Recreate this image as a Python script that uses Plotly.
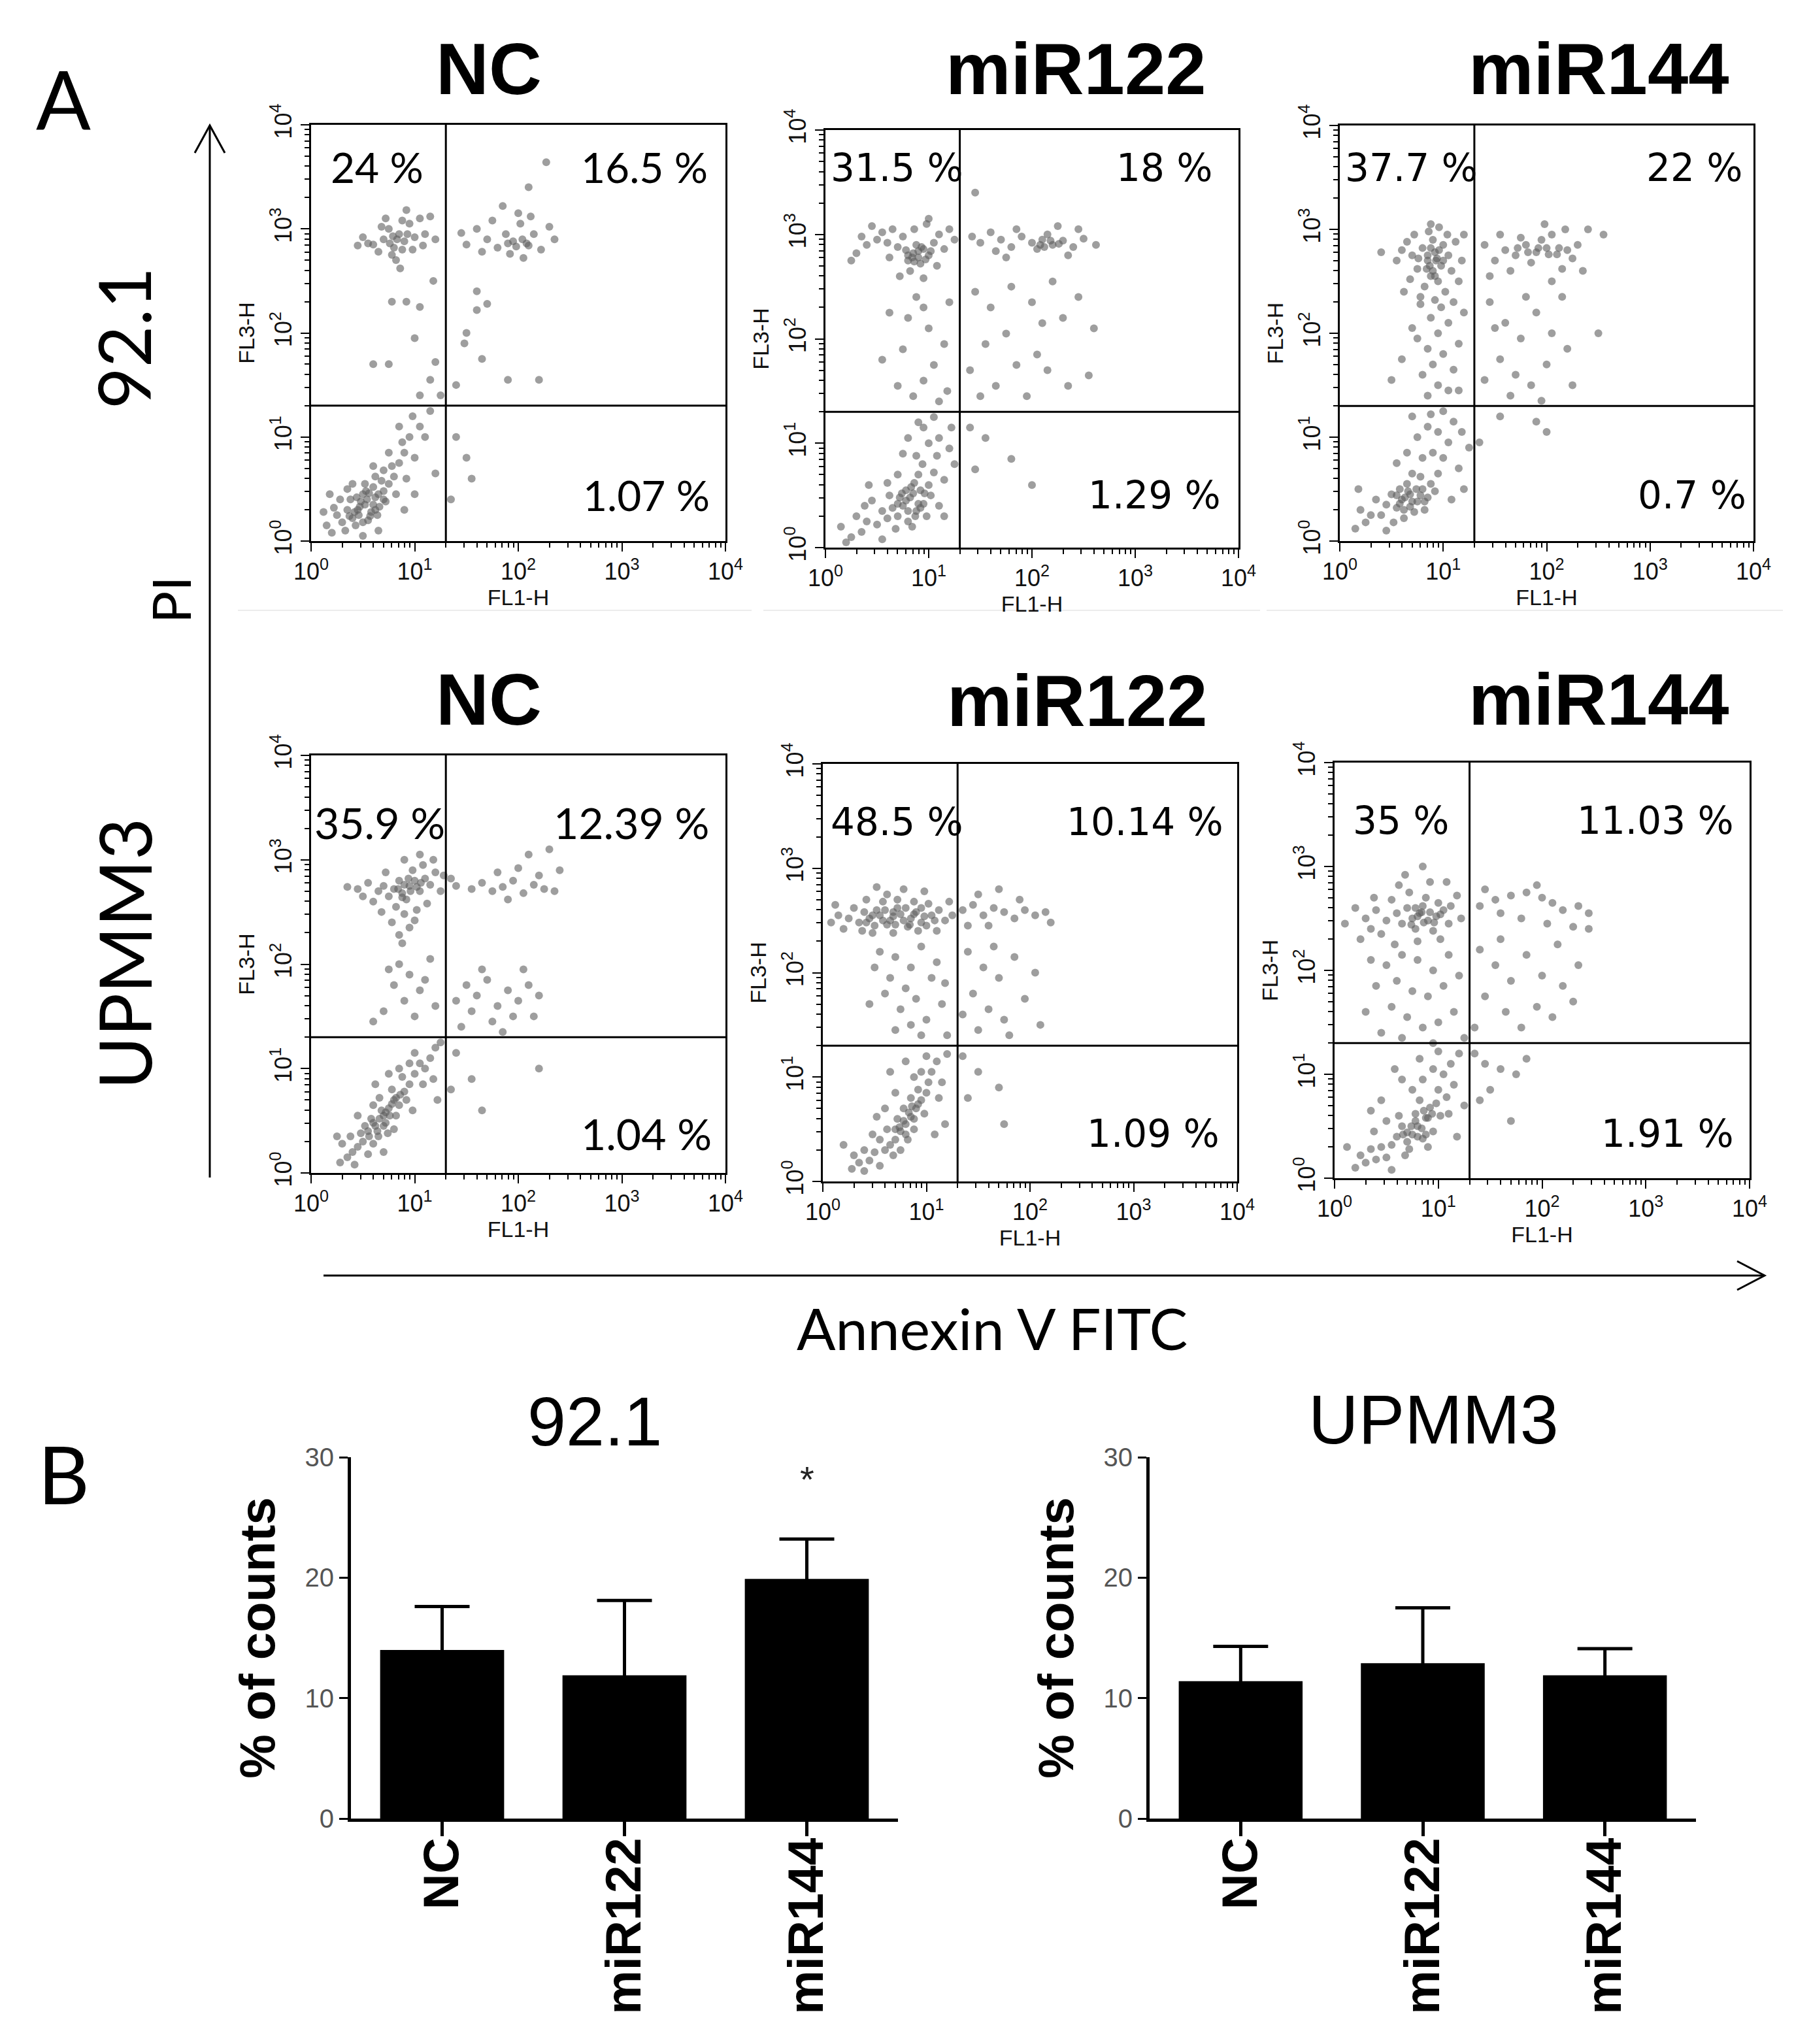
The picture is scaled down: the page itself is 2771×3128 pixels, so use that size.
import plotly.graph_objects as go

W, H = 2771, 3128

CONDITIONS = ["NC", "miR122", "miR144"]
GATE = 20  # quadrant gate, same on FL1-H and FL3-H

# ---- panel A dot plots: (log10 FL1-H, log10 FL3-H) ----
nc_921 = [
    (0.45, 0.30), (0.52, 0.35), (0.58, 0.28), (0.62, 0.42), (0.50, 0.45), (0.40, 0.22), (0.66, 0.33),
    (0.55, 0.20), (0.70, 0.48), (0.48, 0.38), (0.60, 0.52), (0.35, 0.30), (0.72, 0.38), (0.43, 0.15),
    (0.64, 0.25), (0.56, 0.46), (0.38, 0.40), (0.68, 0.58), (0.30, 0.18), (0.75, 0.55), (0.52, 0.55),
    (0.46, 0.25), (0.80, 0.62), (0.62, 0.62), (0.33, 0.10), (0.25, 0.25), (0.20, 0.08), (0.28, 0.40),
    (0.15, 0.15), (0.85, 0.75), (0.78, 0.72), (0.90, 0.85), (0.70, 0.68), (0.82, 0.45), (0.92, 0.60),
    (0.60, 0.72), (0.95, 1.00), (0.88, 0.95), (1.00, 0.80), (1.05, 1.10), (0.98, 1.20), (1.10, 1.00),
    (1.15, 1.25), (0.75, 0.85), (0.85, 1.10), (0.40, 0.55), (0.22, 0.32), (0.65, 0.10), (0.50, 0.05),
    (0.12, 0.28), (1.00, 0.45), (0.35, 0.50), (1.20, 0.65), (0.18, 0.45), (0.90, 0.30),
    (0.47, 0.33), (0.54, 0.40), (0.60, 0.35), (0.42, 0.28), (0.57, 0.24), (0.65, 0.45), (0.50, 0.18),
    (0.70, 0.40), (0.44, 0.42), (0.62, 0.30), (0.37, 0.24), (0.53, 0.48),
    (0.60, 2.85), (0.70, 2.90), (0.80, 2.82), (0.85, 2.95), (0.90, 2.88), (0.75, 3.00), (0.95, 3.05),
    (1.00, 2.92), (1.05, 3.10), (0.65, 2.78), (0.55, 2.86), (0.78, 2.75), (0.88, 3.08), (1.10, 2.95),
    (1.15, 3.12), (0.50, 2.92), (0.72, 3.10), (0.98, 2.80), (0.82, 2.70), (1.20, 2.90), (0.45, 2.84),
    (0.92, 3.18), (0.68, 3.02), (1.08, 2.84), (0.86, 2.62),
    (0.76, 2.86), (0.83, 2.90), (0.88, 2.80), (0.79, 2.93), (0.93, 2.95),
    (1.50, 2.85), (1.60, 3.00), (1.70, 2.90), (1.80, 2.82), (1.88, 2.95), (1.95, 2.88), (2.02, 3.05),
    (2.08, 2.86), (2.15, 2.95), (2.22, 2.80), (2.30, 3.02), (1.75, 3.08), (1.92, 2.76), (2.00, 3.15),
    (1.65, 2.78), (2.12, 3.12), (1.45, 2.96), (2.35, 2.90), (1.85, 3.22), (2.05, 2.72),
    (1.90, 2.86), (1.98, 2.83), (2.04, 2.90), (2.10, 2.84),
    (0.78, 2.30), (0.92, 2.30), (1.05, 2.25), (1.00, 1.95), (1.20, 1.72), (1.15, 1.55), (1.25, 1.40),
    (1.05, 1.40), (0.60, 1.70), (0.75, 1.70), (1.50, 2.00), (1.60, 2.22), (1.70, 2.28), (1.48, 1.90),
    (1.65, 1.75), (1.90, 1.55), (2.20, 1.55), (1.40, 1.50), (1.18, 2.50), (1.60, 2.40),
    (1.50, 0.80), (1.55, 0.60), (1.35, 0.40), (1.40, 1.00), (2.27, 3.64), (2.10, 3.40),
]

mir122_921 = [
    (0.75, 0.40), (0.82, 0.48), (0.88, 0.35), (0.92, 0.55), (0.70, 0.30), (0.80, 0.25), (0.95, 0.42),
    (0.86, 0.62), (0.78, 0.55), (0.65, 0.38), (1.00, 0.60), (0.90, 0.70), (0.72, 0.48), (0.98, 0.30),
    (0.60, 0.28), (1.05, 0.72), (0.84, 0.20), (0.68, 0.18), (1.02, 0.50), (0.94, 0.80), (0.55, 0.35),
    (0.62, 0.50), (1.08, 0.88), (0.88, 0.88), (0.50, 0.22), (0.40, 0.25), (0.35, 0.15), (0.45, 0.45),
    (0.30, 0.30), (0.25, 0.10), (0.20, 0.05), (0.55, 0.08), (1.10, 0.40), (1.15, 0.65), (1.00, 1.00),
    (1.10, 1.05), (0.95, 1.15), (1.05, 1.25), (0.90, 1.20), (0.80, 1.05), (1.20, 0.95), (0.70, 0.70),
    (0.60, 0.62), (1.15, 0.30), (0.42, 0.60), (1.25, 0.80), (0.75, 0.90), (0.38, 0.40), (1.22, 1.15),
    (0.15, 0.20),
    (0.78, 0.45), (0.85, 0.52), (0.90, 0.42), (0.80, 0.35), (0.87, 0.30), (0.96, 0.52), (0.74, 0.52),
    (0.83, 0.58), (0.92, 0.38), (0.70, 0.42),
    (0.85, 2.82), (0.90, 2.78), (0.95, 2.86), (0.80, 2.75), (1.00, 2.80), (0.88, 2.90), (0.78, 2.85),
    (1.05, 2.92), (0.92, 2.72), (0.70, 2.88), (0.60, 2.92), (0.50, 2.95), (0.40, 2.90), (0.30, 2.82),
    (0.35, 2.98), (0.55, 3.02), (0.65, 3.05), (0.75, 2.98), (1.10, 3.00), (1.15, 2.86), (1.20, 3.05),
    (1.25, 2.95), (0.45, 3.08), (0.98, 3.10), (0.82, 2.65), (0.95, 2.58), (0.72, 2.60), (1.08, 2.70),
    (0.25, 2.75), (1.00, 3.15), (0.62, 2.78), (0.86, 3.05),
    (0.84, 2.78), (0.90, 2.84), (0.97, 2.76), (0.86, 2.74), (0.93, 2.88), (1.02, 2.84), (0.80, 2.80),
    (0.88, 2.40), (0.95, 2.30), (0.80, 2.20), (1.00, 2.10), (0.62, 2.25), (0.75, 1.90), (1.05, 1.75),
    (0.95, 1.60), (0.85, 1.45), (1.10, 1.40), (1.18, 1.50), (0.55, 1.80), (0.70, 1.55), (1.20, 2.35),
    (1.15, 1.95),
    (2.00, 2.92), (2.10, 2.95), (2.20, 2.90), (2.30, 2.94), (2.05, 2.86), (2.15, 3.00), (1.90, 2.98),
    (1.80, 2.88), (1.70, 2.95), (1.60, 3.02), (1.50, 2.92), (1.42, 2.98), (2.40, 2.88), (2.50, 2.96),
    (2.62, 2.90), (2.25, 3.08), (1.85, 3.05), (2.35, 2.80), (1.75, 2.78), (1.65, 2.84), (2.45, 3.05),
    (2.08, 2.90), (2.18, 2.94), (2.26, 2.91), (2.12, 2.88),
    (1.45, 2.45), (1.60, 2.30), (1.80, 2.50), (2.00, 2.35), (2.20, 2.55), (2.30, 2.20), (1.55, 1.95),
    (1.75, 2.05), (2.05, 1.85), (2.15, 1.70), (1.40, 1.70), (1.65, 1.55), (1.95, 1.45), (2.35, 1.55),
    (2.60, 2.10), (2.55, 1.65), (1.85, 1.75), (2.10, 2.15), (1.50, 1.45), (2.45, 2.40),
    (1.40, 1.15), (1.55, 1.05), (1.80, 0.85), (2.00, 0.60), (1.45, 0.75), (1.45, 3.40),
]

mir144_921 = [
    (0.60, 0.40), (0.68, 0.45), (0.75, 0.38), (0.80, 0.50), (0.55, 0.32), (0.65, 0.55), (0.72, 0.28),
    (0.85, 0.42), (0.50, 0.45), (0.62, 0.22), (0.78, 0.62), (0.88, 0.55), (0.45, 0.35), (0.70, 0.65),
    (0.92, 0.48), (0.58, 0.50), (0.40, 0.25), (0.82, 0.30), (0.52, 0.18), (0.95, 0.65), (0.35, 0.40),
    (0.30, 0.25), (0.25, 0.18), (0.20, 0.30), (0.15, 0.12), (0.45, 0.10), (1.00, 0.80), (0.90, 0.85),
    (0.80, 0.80), (1.05, 0.95), (0.95, 1.05), (0.85, 1.10), (1.10, 1.15), (1.00, 1.25), (0.75, 1.00),
    (0.65, 0.85), (1.15, 0.70), (1.20, 0.50), (1.08, 0.40), (0.55, 0.75), (0.18, 0.50), (0.88, 1.22),
    (1.18, 1.05), (0.70, 1.20), (1.25, 0.90),
    (0.63, 0.42), (0.70, 0.38), (0.66, 0.48), (0.74, 0.50), (0.58, 0.36), (0.78, 0.44), (0.62, 0.30),
    (0.68, 0.33), (0.55, 0.44), (0.82, 0.38),
    (0.85, 1.40), (0.95, 1.50), (1.05, 1.45), (0.80, 1.60), (0.90, 1.70), (1.10, 1.65), (1.00, 1.80),
    (0.85, 1.85), (0.75, 1.95), (1.15, 1.90), (0.95, 2.00), (1.05, 2.10), (0.88, 2.15), (0.70, 2.05),
    (1.20, 2.20), (0.60, 1.75), (0.50, 1.55), (1.15, 1.45), (0.78, 2.28), (0.98, 2.25),
    (0.85, 2.70), (0.92, 2.78), (0.98, 2.65), (0.80, 2.82), (1.05, 2.75), (0.88, 2.55), (0.95, 2.50),
    (0.75, 2.62), (1.00, 2.85), (0.90, 2.90), (0.82, 2.45), (1.08, 2.60), (0.70, 2.75), (0.65, 2.88),
    (0.60, 2.80), (0.72, 2.95), (1.12, 2.88), (1.18, 2.70), (1.02, 2.40), (0.78, 2.35), (0.92, 2.32),
    (0.68, 2.52), (1.15, 2.50), (0.86, 2.98), (0.96, 3.02), (0.55, 2.70), (1.20, 2.95), (0.40, 2.78),
    (0.62, 2.40), (1.10, 2.30), (0.84, 2.62), (0.94, 2.72), (1.04, 2.95), (0.76, 2.72), (0.88, 3.05),
    (0.87, 2.65), (0.93, 2.70), (0.90, 2.60), (0.96, 2.80), (0.85, 2.75), (1.00, 2.70), (0.92, 2.55),
    (0.88, 2.82),
    (1.60, 2.80), (1.70, 2.75), (1.80, 2.85), (1.90, 2.78), (2.00, 2.82), (2.10, 2.76), (2.20, 2.80),
    (2.25, 2.72), (1.95, 2.90), (2.05, 2.95), (1.75, 2.92), (1.85, 2.68), (2.15, 2.62), (2.30, 2.85),
    (1.50, 2.70), (1.40, 2.85), (1.65, 2.60), (2.35, 2.60), (1.55, 2.95), (2.40, 3.00), (1.98, 3.05),
    (2.18, 3.00), (2.55, 2.95), (1.45, 2.55), (2.05, 2.50),
    (1.82, 2.78), (1.92, 2.82), (2.02, 2.76), (2.12, 2.82), (1.72, 2.82),
    (1.45, 2.30), (1.60, 2.10), (1.75, 1.95), (1.90, 2.20), (2.05, 2.00), (2.20, 1.85), (1.55, 1.75),
    (1.70, 1.60), (1.85, 1.50), (2.00, 1.70), (1.40, 1.55), (1.65, 1.40), (1.95, 1.35), (2.15, 2.35),
    (2.50, 2.00), (2.25, 1.50), (1.80, 2.35), (1.50, 2.05),
    (1.55, 1.20), (1.90, 1.15), (2.00, 1.05), (1.35, 0.95),
]

nc_upmm3 = [
    (0.55, 0.40), (0.62, 0.45), (0.70, 0.55), (0.75, 0.62), (0.80, 0.70), (0.65, 0.35), (0.58, 0.52),
    (0.72, 0.48), (0.85, 0.65), (0.68, 0.60), (0.50, 0.30), (0.78, 0.80), (0.90, 0.78), (0.60, 0.28),
    (0.82, 0.55), (0.45, 0.25), (0.95, 0.85), (0.88, 0.92), (0.52, 0.45), (0.74, 0.38), (1.00, 0.95),
    (0.66, 0.72), (0.48, 0.38), (0.92, 0.70), (0.40, 0.20), (0.35, 0.15), (0.30, 0.28), (0.42, 0.08),
    (0.28, 0.10), (0.38, 0.35), (0.55, 0.18), (0.60, 0.65), (1.05, 1.05), (1.10, 1.00), (1.00, 1.15),
    (1.15, 1.10), (1.20, 1.20), (0.95, 1.05), (1.08, 0.85), (0.85, 1.00), (0.75, 0.95), (1.18, 0.90),
    (0.98, 0.60), (0.45, 0.55), (0.70, 0.20), (1.25, 1.25), (0.25, 0.35), (1.22, 0.70), (0.80, 0.42),
    (0.62, 0.85),
    (0.60, 0.48), (0.66, 0.52), (0.72, 0.58), (0.78, 0.66), (0.70, 0.45), (0.64, 0.40), (0.76, 0.55),
    (0.82, 0.72), (0.56, 0.35), (0.86, 0.75),
    (0.80, 2.72), (0.88, 2.68), (0.95, 2.75), (1.00, 2.80), (1.05, 2.70), (0.85, 2.80), (0.92, 2.62),
    (1.10, 2.82), (1.15, 2.76), (1.20, 2.88), (0.75, 2.65), (0.70, 2.75), (0.98, 2.90), (1.08, 2.95),
    (0.82, 2.55), (0.90, 2.48), (0.78, 2.40), (0.95, 2.35), (0.85, 2.28), (1.02, 2.52), (0.65, 2.70),
    (0.55, 2.78), (0.45, 2.72), (0.35, 2.74), (0.60, 2.60), (1.25, 2.70), (1.18, 3.00), (0.90, 3.00),
    (0.72, 2.88), (1.12, 2.58), (0.88, 2.20), (1.00, 2.42), (0.68, 2.50), (1.28, 2.85), (0.50, 2.65),
    (1.05, 3.05),
    (0.84, 2.72), (0.90, 2.76), (0.96, 2.70), (1.02, 2.74), (0.88, 2.64), (0.94, 2.82), (1.06, 2.78),
    (1.55, 2.72), (1.65, 2.78), (1.75, 2.70), (1.85, 2.74), (1.95, 2.80), (2.05, 2.68), (2.15, 2.76),
    (2.25, 2.72), (2.35, 2.70), (1.80, 2.88), (2.00, 2.92), (2.20, 2.85), (1.40, 2.75), (2.40, 2.90),
    (1.90, 2.62), (1.35, 2.82), (2.10, 3.05), (2.30, 3.10),
    (0.75, 1.95), (0.85, 2.00), (0.95, 1.90), (0.80, 1.80), (1.05, 1.75), (0.90, 1.65), (1.10, 1.85),
    (0.70, 1.55), (1.00, 1.50), (1.20, 1.60), (0.60, 1.45), (1.15, 2.05),
    (1.50, 1.80), (1.60, 1.70), (1.70, 1.85), (1.80, 1.60), (1.90, 1.75), (2.00, 1.65), (2.10, 1.80),
    (2.20, 1.70), (1.55, 1.55), (1.75, 1.45), (1.95, 1.50), (1.65, 1.95), (2.05, 1.95), (1.45, 1.40),
    (1.85, 1.35), (1.40, 1.65), (2.15, 1.50),
    (1.40, 1.15), (1.55, 0.90), (1.65, 0.60), (2.20, 1.00), (1.35, 0.80),
]

mir122_upmm3 = [
    (0.80, 0.55), (0.85, 0.62), (0.75, 0.48), (0.90, 0.70), (0.70, 0.40), (0.82, 0.40), (0.95, 0.78),
    (0.88, 0.50), (0.72, 0.60), (0.65, 0.35), (1.00, 0.85), (0.78, 0.70), (0.92, 0.88), (0.60, 0.30),
    (0.68, 0.25), (0.98, 0.65), (0.55, 0.40), (0.85, 0.80), (0.62, 0.50), (1.02, 0.95), (0.50, 0.28),
    (0.75, 0.30), (0.45, 0.20), (0.40, 0.30), (0.35, 0.18), (0.30, 0.25), (0.28, 0.12), (0.40, 0.10),
    (0.55, 0.15), (0.48, 0.45), (1.05, 1.05), (1.10, 1.15), (1.00, 1.20), (0.95, 1.05), (1.15, 0.95),
    (1.12, 0.80), (0.88, 1.00), (0.70, 0.85), (0.60, 0.70), (1.20, 1.22), (0.80, 1.15), (0.52, 0.62),
    (1.18, 0.55), (0.20, 0.35), (0.65, 1.05), (1.08, 0.45),
    (0.78, 0.58), (0.83, 0.66), (0.88, 0.60), (0.74, 0.52), (0.80, 0.45), (0.92, 0.74), (0.86, 0.72),
    (0.70, 0.50),
    (0.45, 2.52), (0.55, 2.55), (0.65, 2.50), (0.75, 2.56), (0.85, 2.52), (0.95, 2.48), (1.05, 2.55),
    (1.12, 2.60), (0.50, 2.45), (0.60, 2.60), (0.70, 2.46), (0.80, 2.62), (0.90, 2.58), (1.00, 2.45),
    (0.40, 2.58), (0.35, 2.48), (0.25, 2.52), (0.15, 2.55), (0.08, 2.48), (0.30, 2.62), (0.20, 2.42),
    (0.58, 2.68), (0.72, 2.70), (0.88, 2.68), (1.02, 2.66), (1.18, 2.50), (1.22, 2.68), (0.48, 2.38),
    (0.68, 2.38), (0.92, 2.40), (0.62, 2.75), (1.10, 2.40), (0.42, 2.70), (0.78, 2.80), (0.98, 2.78),
    (0.52, 2.82), (0.82, 2.44), (0.68, 2.58), (0.95, 2.62), (0.12, 2.65), (1.25, 2.55), (0.38, 2.40),
    (0.48, 2.55), (0.58, 2.50), (0.68, 2.54), (0.78, 2.50), (0.88, 2.56), (0.98, 2.54), (0.52, 2.60),
    (0.62, 2.46), (0.72, 2.62), (0.84, 2.46), (0.42, 2.48), (1.08, 2.50),
    (0.55, 2.20), (0.70, 2.15), (0.85, 2.05), (0.95, 2.25), (0.65, 1.95), (0.80, 1.85), (0.90, 1.75),
    (1.05, 1.95), (0.75, 1.65), (0.60, 1.80), (1.00, 1.55), (1.15, 1.70), (0.85, 1.50), (1.10, 2.10),
    (0.45, 1.70), (0.70, 1.45), (1.20, 1.40), (0.50, 2.05), (0.95, 1.40), (1.18, 1.90),
    (1.35, 2.60), (1.45, 2.65), (1.55, 2.55), (1.65, 2.62), (1.75, 2.58), (1.85, 2.52), (1.95, 2.60),
    (2.05, 2.55), (2.15, 2.58), (1.50, 2.75), (1.70, 2.80), (1.60, 2.45), (1.90, 2.70), (2.20, 2.48),
    (1.40, 2.45),
    (1.40, 2.20), (1.55, 2.05), (1.70, 1.95), (1.85, 2.15), (1.45, 1.80), (1.60, 1.65), (1.75, 1.55),
    (1.95, 1.75), (2.05, 2.00), (1.50, 1.45), (1.35, 1.60), (1.80, 1.40), (2.10, 1.50), (1.65, 2.25),
    (1.35, 1.20), (1.50, 1.05), (1.70, 0.90), (1.75, 0.55), (1.40, 0.80),
]

mir144_upmm3 = [
    (0.80, 0.50), (0.88, 0.58), (0.75, 0.42), (0.92, 0.68), (0.70, 0.35), (0.85, 0.38), (0.98, 0.72),
    (0.65, 0.50), (0.78, 0.62), (1.02, 0.60), (0.72, 0.28), (0.60, 0.40), (0.95, 0.45), (1.08, 0.78),
    (0.82, 0.75), (0.68, 0.22), (0.55, 0.32), (1.00, 0.85), (0.62, 0.60), (0.90, 0.30), (0.50, 0.20),
    (1.10, 0.62), (0.45, 0.30), (0.40, 0.18), (0.35, 0.28), (0.30, 0.15), (0.25, 0.22), (0.20, 0.10),
    (0.38, 0.45), (0.50, 0.55), (0.55, 0.08), (1.15, 0.90), (1.05, 1.00), (1.12, 1.10), (0.95, 1.05),
    (0.85, 0.95), (0.75, 0.85), (1.20, 1.20), (0.65, 0.95), (0.45, 0.75), (1.00, 1.22), (0.82, 1.15),
    (1.25, 0.70), (0.58, 1.05), (0.35, 0.65), (0.12, 0.30), (1.18, 0.40),
    (0.78, 0.55), (0.84, 0.48), (0.90, 0.58), (0.74, 0.50), (0.86, 0.65), (0.70, 0.44), (0.80, 0.40),
    (0.94, 0.62), (0.66, 0.42), (0.88, 0.42),
    (0.75, 2.50), (0.82, 2.55), (0.90, 2.48), (0.98, 2.52), (1.05, 2.58), (0.85, 2.62), (0.78, 2.40),
    (0.95, 2.38), (1.10, 2.45), (0.70, 2.60), (0.88, 2.70), (1.00, 2.65), (0.65, 2.45), (1.12, 2.62),
    (0.60, 2.55), (0.55, 2.68), (0.50, 2.48), (0.40, 2.58), (0.30, 2.50), (0.20, 2.60), (0.10, 2.45),
    (0.45, 2.35), (0.72, 2.75), (0.62, 2.82), (0.92, 2.85), (1.18, 2.72), (1.22, 2.50), (0.80, 2.28),
    (1.02, 2.30), (0.58, 2.25), (0.38, 2.70), (0.68, 2.92), (0.85, 3.00), (1.08, 2.85), (0.35, 2.40),
    (0.25, 2.30),
    (0.80, 2.52), (0.86, 2.46), (0.92, 2.56), (0.78, 2.60), (0.96, 2.46), (1.02, 2.54), (0.84, 2.56),
    (0.74, 2.44),
    (0.35, 2.10), (0.50, 2.05), (0.65, 2.15), (0.80, 2.10), (0.95, 2.00), (1.10, 2.15), (0.40, 1.85),
    (0.60, 1.90), (0.75, 1.80), (0.90, 1.75), (1.05, 1.85), (1.20, 1.95), (0.55, 1.65), (0.70, 1.55),
    (0.85, 1.45), (1.00, 1.50), (1.15, 1.60), (0.45, 1.40), (0.95, 1.30), (0.30, 1.60), (1.25, 1.35),
    (0.65, 1.35),
    (1.40, 2.62), (1.55, 2.68), (1.70, 2.72), (1.85, 2.75), (2.00, 2.70), (2.10, 2.65), (2.20, 2.58),
    (2.35, 2.62), (2.45, 2.55), (1.60, 2.55), (1.80, 2.50), (2.05, 2.45), (2.30, 2.42), (1.45, 2.78),
    (1.95, 2.82), (2.45, 2.40),
    (1.40, 2.20), (1.55, 2.05), (1.70, 1.90), (1.85, 2.15), (2.00, 1.95), (2.20, 1.85), (1.45, 1.75),
    (1.65, 1.60), (1.80, 1.45), (1.95, 1.65), (2.10, 1.55), (2.35, 2.05), (1.35, 1.45), (2.30, 1.70),
    (1.60, 2.30), (2.15, 2.25),
    (1.35, 1.20), (1.45, 1.10), (1.60, 1.05), (1.75, 1.00), (1.50, 0.85), (1.40, 0.75), (1.85, 1.15),
    (1.70, 0.55),
]

# quadrant percentages (upper-left, upper-right, lower-right)
pct_921_ul = ["24 %", "31.5 %", "37.7 %"]
pct_921_ur = ["16.5 %", "18 %", "22 %"]
pct_921_lr = ["1.07 %", "1.29 %", "0.7 %"]
pct_upmm3_ul = ["35.9 %", "48.5 %", "35 %"]
pct_upmm3_ur = ["12.39 %", "10.14 %", "11.03 %"]
pct_upmm3_lr = ["1.04 %", "1.09 %", "1.91 %"]

# ---- panel B bar charts ----
bar_921_mean = [14.0, 11.9, 19.9]
bar_921_err = [3.6, 6.2, 3.3]
bar_upmm3_mean = [11.4, 12.9, 11.9]
bar_upmm3_err = [2.9, 4.6, 2.2]

DECADES = [1, 10, 100, 1000, 10000]
DECADE_TEXT = ["10<sup>%d</sup>" % d for d in range(5)]
MINOR = [m * 10 ** d for d in range(4) for m in range(2, 10)]
NARROW = "Liberation Sans Narrow, Liberation Sans"


def px(x, y):
    """pixel position in the 2771x3128 picture -> paper coords"""
    return x / W, 1 - y / H


def xdom(x0, x1):
    return [x0 / W, x1 / W]


def ydom(y0, y1):
    return [1 - y1 / H, 1 - y0 / H]


def suffix(i):
    return "" if i == 1 else str(i)


def flow_axis(domain, anchor, title, vertical):
    ax = dict(
        domain=domain, anchor=anchor, type="log", range=[0, 4],
        tickmode="array", tickvals=DECADES, ticktext=DECADE_TEXT,
        ticks="outside", ticklen=13, tickwidth=2, tickcolor="black",
        minor=dict(tickmode="array", tickvals=MINOR, ticks="outside", ticklen=7,
                   tickwidth=1.5, tickcolor="black", showgrid=False),
        showline=True, mirror=True, linecolor="black", linewidth=3,
        showgrid=False, zeroline=False, automargin=False,
        tickfont=dict(family=NARROW, size=36, color="#111"),
        title=dict(text=title, font=dict(family=NARROW, size=34, color="#111"), standoff=2),
    )
    if vertical:
        ax["tickangle"] = -90
        ax["title"]["standoff"] = 8
    return ax


fig = go.Figure()

# pixel boxes of the six dot plots: x0, x1, y0, y1
boxes = [(468, 1102, 183, 820), (1255, 1887, 191, 830), (2042, 2675, 184, 820),
         (468, 1102, 1148, 1787), (1251, 1885, 1161, 1800), (2034, 2669, 1159, 1795)]
dots = [nc_921, mir122_921, mir144_921, nc_upmm3, mir122_upmm3, mir144_upmm3]
ul_txt = pct_921_ul + pct_upmm3_ul
ur_txt = pct_921_ur + pct_upmm3_ur
lr_txt = pct_921_lr + pct_upmm3_lr
# label placement inside each plot (domain fractions) and typeface
ul_pos = [(0.16, "center"), (0.01, "left"), (0.01, "left"),
          (0.005, "left"), (0.015, "left"), (0.16, "center")]
ur_x = [0.96, 0.94, 0.977, 0.965, 0.97, 0.965]
lr_x = [0.965, 0.96, 0.985, 0.97, 0.96, 0.965]
top_y = [0.898, 0.91, 0.898, 0.84, 0.86, 0.86]
low_y = [0.11, 0.125, 0.11, 0.094, 0.114, 0.107]
faces = [("Lato", 64), ("DejaVu Sans", 58), ("DejaVu Sans", 58),
         ("Lato", 66), ("DejaVu Sans", 58), ("DejaVu Sans", 58)]

layout_axes = {}
annotations = []
for i, (pts, box) in enumerate(zip(dots, boxes), start=1):
    xa, ya = "x" + suffix(i), "y" + suffix(i)
    fig.add_trace(go.Scatter(
        x=[10 ** p[0] for p in pts], y=[10 ** p[1] for p in pts],
        mode="markers", marker=dict(size=12, color="#5e5e5e", opacity=0.6),
        xaxis=xa, yaxis=ya, showlegend=False, hoverinfo="skip"))
    for gx, gy in (([GATE, GATE], [1, 10000]), ([1, 10000], [GATE, GATE])):
        fig.add_trace(go.Scatter(x=gx, y=gy, mode="lines", line=dict(color="black", width=3),
                                 xaxis=xa, yaxis=ya, showlegend=False, hoverinfo="skip"))
    layout_axes["xaxis" + suffix(i)] = flow_axis(xdom(box[0], box[1]), ya, "FL1-H", False)
    layout_axes["yaxis" + suffix(i)] = flow_axis(ydom(box[2], box[3]), xa, "FL3-H", True)

    fam, size = faces[i - 1]
    font = dict(family=fam, size=size, color="black")
    ref = dict(xref=xa + " domain", yref=ya + " domain", showarrow=False, font=font,
               yanchor="middle")
    annotations.append(dict(ref, x=ul_pos[i - 1][0], xanchor=ul_pos[i - 1][1],
                            y=top_y[i - 1], text=ul_txt[i - 1]))
    annotations.append(dict(ref, x=ur_x[i - 1], xanchor="right", y=top_y[i - 1],
                            text=ur_txt[i - 1]))
    annotations.append(dict(ref, x=lr_x[i - 1], xanchor="right", y=low_y[i - 1],
                            text=lr_txt[i - 1]))

# bar charts
bar_sets = [(bar_921_mean, bar_921_err, 529, 1366), (bar_upmm3_mean, bar_upmm3_err, 1751, 2587)]
for j, (mean, err, x0, x1) in enumerate(bar_sets, start=7):
    xa, ya = "x%d" % j, "y%d" % j
    fig.add_trace(go.Bar(
        x=CONDITIONS, y=mean, width=0.68, marker=dict(color="black", line=dict(width=0)),
        error_y=dict(type="data", array=err, symmetric=True,
                     color="black", thickness=5, width=42),
        xaxis=xa, yaxis=ya, showlegend=False, hoverinfo="skip"))
    layout_axes["xaxis%d" % j] = dict(
        domain=xdom(x0, x1), anchor=ya, range=[-0.5, 2.5], showline=True, linecolor="black",
        linewidth=5, ticks="outside", ticklen=22, tickwidth=5, tickcolor="black", tickangle=-90,
        ticklabelstandoff=-28,
        tickfont=dict(family="Liberation Sans", size=76, color="black", weight="bold"),
        showgrid=False, zeroline=False, automargin=False)
    layout_axes["yaxis%d" % j] = dict(
        domain=ydom(2222, 2775), anchor=xa, range=[0, 30], tickvals=[0, 10, 20, 30],
        showline=True, linecolor="black", linewidth=5, ticks="outside", ticklen=13,
        tickwidth=3, tickcolor="black",
        tickfont=dict(family=NARROW, size=40, color="#555"),
        title=dict(text="<b>% of counts</b>", standoff=22,
                   font=dict(family="Liberation Sans", size=76, color="black")),
        showgrid=False, zeroline=False, automargin=False)

annotations.append(dict(xref="x7", yref="y7", x=2, y=28.2, text="*", showarrow=False,
                        font=dict(family="Liberation Sans", size=56, color="#222")))


def label(x, y, text, family, size, bold=False, angle=0, color="black"):
    px_, py_ = px(x, y)
    annotations.append(dict(
        xref="paper", yref="paper", x=px_, y=py_, text="<b>%s</b>" % text if bold else text,
        showarrow=False, textangle=angle, xanchor="center", yanchor="middle",
        font=dict(family=family, size=size, color=color)))


label(89, 142, "A", "Lato", 124)
label(89, 2247, "B", "Lato", 122)
label(180, 510, "92.1", "Lato", 110, angle=-90)
label(181, 1452, "UPMM3", "Lato", 110, angle=-90)
label(252, 910, "PI", "Lato", 82, angle=-90)
label(1510, 2024, "Annexin V FITC", "Lato", 88)
for cx, cy, t in [(740, 98, "NC"), (1638, 98, "miR122"), (2438, 98, "miR144"),
                  (740, 1062, "NC"), (1640, 1064, "miR122"), (2438, 1062, "miR144")]:
    label(cx, cy, t, "Liberation Sans", 112, bold=True)
label(902, 2167, "92.1", "Liberation Sans", 106)
label(2185, 2164, "UPMM3", "Liberation Sans", 106)


def seg(pts, width=3, color="black"):
    path = "M " + " L ".join("%.5f,%.5f" % px(x, y) for x, y in pts)
    return dict(type="path", xref="paper", yref="paper", path=path,
                line=dict(color=color, width=width))


shapes = [
    seg([(313, 1794), (313, 184)]),
    seg([(290, 226), (313, 184), (336, 226)]),
    seg([(487, 1944), (2692, 1944)]),
    seg([(2650, 1922), (2692, 1944), (2650, 1966)]),
    seg([(356, 926), (1142, 926)], width=2, color="#ececec"),
    seg([(1160, 926), (1920, 926)], width=2, color="#ececec"),
    seg([(1930, 926), (2720, 926)], width=2, color="#ececec"),
]

fig.update_layout(
    width=W, height=H, margin=dict(l=0, r=0, t=0, b=0),
    paper_bgcolor="white", plot_bgcolor="white",
    annotations=annotations, shapes=shapes, bargap=0.32,
    **layout_axes,
)

fig.write_html("out.html")
